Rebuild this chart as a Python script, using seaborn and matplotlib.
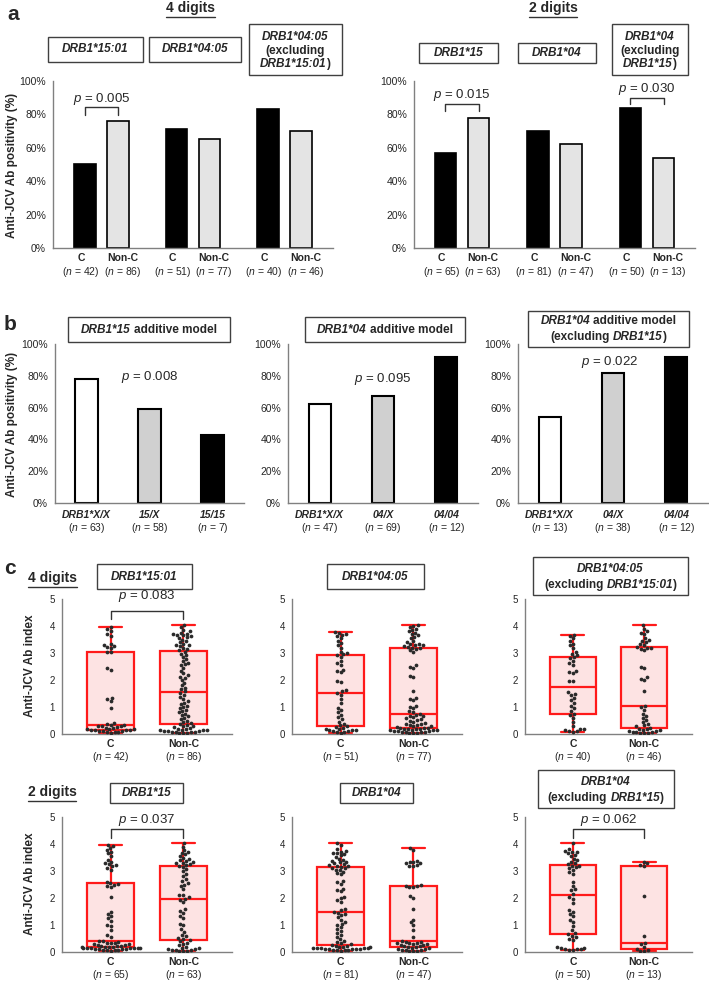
import numpy as np
import pandas as pd
import matplotlib.pyplot as plt
import seaborn as sns
from matplotlib.patches import Rectangle
from matplotlib.lines import Line2D

sns.set_style("white")
plt.rcParams["font.family"] = ["Liberation Sans", "DejaVu Sans"]
plt.rcParams["mathtext.fontset"] = "custom"
plt.rcParams["mathtext.rm"] = "Liberation Sans"
plt.rcParams["mathtext.it"] = "Liberation Sans:italic"

W, H = 709, 983

# ---- panel a: % anti-JCV positive, carriers (C) vs non-carriers ----
a4_groups = ["15:01", "04:05", "04:05ex"]
a4_C = [50, 71, 83]
a4_N = [76, 65, 70]
a4_nC = [42, 51, 40]
a4_nN = [86, 77, 46]
a2_groups = ["15", "04", "04ex"]
a2_C = [57, 70, 84]
a2_N = [78, 62, 54]
a2_nC = [65, 81, 50]
a2_nN = [63, 47, 13]

# ---- panel b: additive models ----
b_cats = [["DRB1*X/X", "15/X", "15/15"],
          ["DRB1*X/X", "04/X", "04/04"],
          ["DRB1*X/X", "04/X", "04/04"]]
b_vals = [[78, 59, 43], [62, 67, 92], [54, 82, 92]]
b_n = [[63, 58, 7], [47, 69, 12], [13, 38, 12]]
b_p = ["0.008", "0.095", "0.022"]

# ---- panel c: anti-JCV index per patient ----
c1501_C = [0.05, 0.07, 0.08, 0.09, 0.10, 0.11, 0.12, 0.13, 0.14, 0.15, 0.16, 0.18, 0.19, 0.20, 0.22, 0.24,
           0.26, 0.28, 0.30, 0.31, 0.33, 0.35, 0.38, 0.41, 0.95, 1.22, 1.30, 1.35, 2.38, 2.45,
           3.02, 3.05, 3.18, 3.22, 3.25, 3.30, 3.35, 3.62, 3.70, 3.80, 3.88, 3.97]
c1501_N = [0.03, 0.04, 0.05, 0.06, 0.07, 0.08, 0.09, 0.10, 0.11, 0.12, 0.13, 0.14, 0.15, 0.16, 0.18, 0.20,
           0.22, 0.25, 0.28, 0.31, 0.34, 0.37,
           0.40, 0.45, 0.50, 0.55, 0.60, 0.65, 0.70, 0.75, 0.80, 0.85, 0.90, 0.95, 1.00, 1.05, 1.10, 1.15,
           1.22, 1.30, 1.38, 1.45, 1.52,
           1.58, 1.65, 1.72, 1.80, 1.90, 2.00, 2.08, 2.12, 2.18, 2.25, 2.35, 2.45, 2.55, 2.58, 2.62, 2.70,
           2.78, 2.85, 2.92, 2.98, 3.05,
           3.10, 3.15, 3.20, 3.25, 3.28, 3.30, 3.35, 3.40, 3.45, 3.50, 3.55, 3.58, 3.62, 3.65, 3.68, 3.70,
           3.72, 3.75, 3.80, 3.85, 3.95, 4.03]
c0405_C = [0.05, 0.07, 0.09, 0.10, 0.12, 0.13, 0.15, 0.16, 0.18, 0.20, 0.22, 0.25, 0.28,
           0.32, 0.38, 0.45, 0.55, 0.62, 0.72, 0.80, 0.88, 0.95, 1.15, 1.30, 1.45, 1.52,
           1.58, 1.62, 1.92, 1.98, 2.28, 2.32, 2.38, 2.55, 2.62, 2.70, 2.85, 2.92,
           2.95, 3.00, 3.05, 3.20, 3.30, 3.38, 3.45, 3.55, 3.62, 3.68, 3.72, 3.75, 3.77]
c0405_N = [0.03, 0.04, 0.05, 0.06, 0.07, 0.08, 0.09, 0.10, 0.11, 0.12, 0.13, 0.14, 0.15, 0.16, 0.17, 0.18,
           0.19, 0.20, 0.21, 0.22,
           0.24, 0.26, 0.28, 0.30, 0.32, 0.34, 0.36, 0.38, 0.40, 0.45, 0.50, 0.52, 0.55, 0.58, 0.62, 0.65,
           0.68, 0.72, 0.75,
           0.80, 0.85, 0.95, 1.00, 1.05, 1.25, 1.30, 1.35, 1.60, 2.10, 2.15, 2.45, 2.50, 2.55, 3.05, 3.10,
           3.15, 3.18, 3.20,
           3.22, 3.25, 3.28, 3.30, 3.32, 3.35, 3.40, 3.45, 3.55, 3.60, 3.65, 3.70, 3.75, 3.80, 3.85, 3.90,
           3.95, 4.00, 4.03]
c0405x_C = [0.08, 0.10, 0.12, 0.15, 0.18, 0.20, 0.30, 0.45, 0.60, 0.70,
            0.75, 0.85, 0.95, 1.05, 1.15, 1.25, 1.35, 1.45, 1.50, 1.55,
            1.95, 1.98, 2.25, 2.30, 2.35, 2.55, 2.62, 2.70, 2.80, 2.85,
            2.92, 2.98, 3.05, 3.20, 3.28, 3.35, 3.45, 3.55, 3.62, 3.68]
c0405x_N = [0.03, 0.04, 0.05, 0.06, 0.08, 0.09, 0.10, 0.12, 0.14, 0.16, 0.18, 0.20,
            0.22, 0.28, 0.32, 0.38, 0.45, 0.52, 0.60, 0.68, 0.75, 0.90, 1.00,
            1.05, 1.60, 2.00, 2.05, 2.10, 2.45, 2.50, 3.10, 3.15, 3.18, 3.20,
            3.22, 3.28, 3.32, 3.40, 3.45, 3.50, 3.55, 3.70, 3.75, 3.80, 3.90, 4.03]
c15_C = [0.05, 0.06, 0.07, 0.08, 0.09, 0.10, 0.11, 0.12, 0.12, 0.13, 0.14, 0.14, 0.15, 0.15, 0.16, 0.16,
         0.17, 0.18, 0.19, 0.20, 0.21, 0.22, 0.24, 0.25, 0.27, 0.29, 0.30, 0.32, 0.34, 0.35, 0.37, 0.39,
         0.40, 0.55, 0.62, 0.80, 0.95, 1.00, 1.15, 1.25, 1.32, 1.40, 1.50, 2.02, 2.40, 2.45, 2.48, 2.52,
         2.55, 2.60, 3.05, 3.12, 3.18, 3.22, 3.25, 3.30, 3.35, 3.40, 3.55, 3.65, 3.72, 3.78, 3.85, 3.92,
         3.97]
c15_N = [0.03, 0.04, 0.05, 0.06, 0.07, 0.08, 0.10, 0.12, 0.14, 0.16, 0.20, 0.25, 0.30, 0.35, 0.40, 0.44,
         0.48, 0.52, 0.58, 0.62, 0.75, 0.85, 1.00, 1.05, 1.25, 1.32, 1.45, 1.52, 1.58, 1.85, 1.92, 1.97,
         2.02, 2.10, 2.12, 2.35, 2.45, 2.50, 2.55, 2.62, 2.70, 2.80, 2.90, 3.00, 3.08, 3.15, 3.18,
         3.22, 3.25, 3.28, 3.30, 3.33, 3.36, 3.40, 3.45, 3.50, 3.55, 3.62, 3.68, 3.72, 3.78, 3.90, 4.03]
c04_C = [0.05, 0.06, 0.07, 0.08, 0.09, 0.10, 0.10, 0.11, 0.12, 0.12, 0.13, 0.14, 0.14, 0.15, 0.16, 0.17,
         0.18, 0.20, 0.22, 0.24, 0.27,
         0.30, 0.33, 0.38, 0.42, 0.48, 0.55, 0.62, 0.70, 0.78, 0.85, 0.92, 1.00, 1.05, 1.12, 1.20, 1.30,
         1.38, 1.42, 1.46, 1.50,
         1.55, 1.58, 1.85, 1.92, 2.00, 2.05, 2.25, 2.30, 2.35, 2.52, 2.58, 2.62, 2.88, 2.92, 2.98, 3.02,
         3.05, 3.10, 3.12, 3.15,
         3.18, 3.20, 3.22, 3.25, 3.28, 3.32, 3.35, 3.38, 3.42, 3.45, 3.52, 3.58, 3.62, 3.65, 3.68, 3.72,
         3.75, 3.80, 3.95, 4.03]
c04_N = [0.03, 0.04, 0.05, 0.06, 0.07, 0.08, 0.10, 0.12, 0.14, 0.16, 0.18, 0.19,
         0.21, 0.23, 0.25, 0.27, 0.28, 0.30, 0.32, 0.33, 0.35, 0.37, 0.38, 0.40,
         0.55, 0.80, 1.00, 1.10, 1.20, 1.60, 2.00, 2.08, 2.40, 2.42, 2.44,
         2.46, 2.50, 3.18, 3.20, 3.22, 3.28, 3.30, 3.32, 3.35, 3.38, 3.78, 3.87]
c04x_C = [0.08, 0.09, 0.10, 0.11, 0.12, 0.13, 0.15, 0.18, 0.45, 0.50, 0.55, 0.60, 0.65,
          0.70, 0.80, 0.95, 1.10, 1.20, 1.32, 1.40, 1.50, 1.55, 1.80, 1.98, 2.05,
          2.15, 2.28, 2.32, 2.45, 2.60, 2.90, 2.95, 3.05, 3.10, 3.15, 3.18, 3.20,
          3.25, 3.30, 3.35, 3.40, 3.45, 3.55, 3.60, 3.65, 3.70, 3.72, 3.75, 3.80, 4.03]
c04x_N = [0.03, 0.05, 0.08, 0.12, 0.20, 0.30, 0.35, 0.58, 2.08, 3.20, 3.22, 3.28, 3.35]

c_rows = [
    [("DRB1*15:01", c1501_C, c1501_N, 42, 86, "0.083"),
     ("DRB1*04:05", c0405_C, c0405_N, 51, 77, None),
     ("DRB1*04:05x", c0405x_C, c0405x_N, 40, 46, None)],
    [("DRB1*15", c15_C, c15_N, 65, 63, "0.037"),
     ("DRB1*04", c04_C, c04_N, 81, 47, None),
     ("DRB1*04x", c04x_C, c04x_N, 50, 13, "0.062")],
]

fig = plt.figure(figsize=(W / 100, H / 100), dpi=100)
renderer = fig.canvas.get_renderer()
GRAY = "#808080"


def add_ax(x0, x1, y0, y1):
    return fig.add_axes([x0 / W, 1 - y1 / H, (x1 - x0) / W, (y1 - y0) / H])


def style(ax):
    sns.despine(ax=ax)
    for s in ["left", "bottom"]:
        ax.spines[s].set_color(GRAY)
        ax.spines[s].set_linewidth(1)
    ax.tick_params(axis="y", length=3, width=0.8, color=GRAY, labelsize=7.5, pad=2)
    ax.tick_params(axis="x", length=0, labelbottom=False)
    ax.set_xlabel("")
    ax.set_ylabel("")


def bottom_labels(ax, xs, names, ns, d1, d2, italic=False, dx=None):
    dx = dx or [0] * len(xs)
    for x, t, n, o in zip(xs, names, ns, dx):
        ax.annotate(t, (x, 0), xycoords=("data", "axes fraction"), xytext=(o, -d1),
                    textcoords="offset pixels", ha="center", va="center", fontsize=7.5,
                    fontweight="bold", fontstyle="italic" if italic else "normal")
        ax.annotate(f"($\\mathit{{n}}$ = {n})", (x, 0), xycoords=("data", "axes fraction"),
                    xytext=(o, -d2), textcoords="offset pixels", ha="center", va="center",
                    fontsize=7.5)


def bracket(ax, x0, x1, ylo, yhi, ytxt, p):
    ax.plot([x0, x0, x1, x1], [ylo, yhi, yhi, ylo], color="#333333", lw=1, clip_on=False)
    ax.text((x0 + x1) / 2, ytxt, f"$\\mathit{{p}}$ = {p}", ha="center", va="center",
            fontsize=9.5, clip_on=False)


def rich_line(xc, yc, parts, size=8.5):
    # parts: (text, italic); everything bold
    ts, ws = [], []
    for s, it in parts:
        t = fig.text(0, 1 - yc / H, s.strip(), fontsize=size, fontweight="bold",
                     fontstyle="italic" if it else "normal", va="center", ha="left")
        w = t.get_window_extent(renderer).width if s.strip() else 0
        w0 = 0.278 * size * 100 / 72 if s.startswith(" ") else 0
        ts.append((t, w0))
        ws.append(w + w0)
    x = xc - sum(ws) / 2
    for (t, w0), w in zip(ts, ws):
        t.set_x((x + w0) / W)
        x += w


def label_box(x0, x1, y0, y1, lines, size=8.5):
    fig.add_artist(Rectangle((x0 / W, 1 - y1 / H), (x1 - x0) / W, (y1 - y0) / H,
                             transform=fig.transFigure, fc="white", ec="#404040", lw=1))
    for yc, parts in lines:
        rich_line((x0 + x1) / 2, yc, parts, size)


def heading(xc, yc, s, size=10):
    t = fig.text(xc / W, 1 - yc / H, s, fontsize=size, fontweight="bold", ha="center", va="center")
    bb = t.get_window_extent(renderer)
    fig.add_artist(Line2D([bb.x0 / W, bb.x1 / W], [(bb.y0 - 1.5) / H] * 2,
                          transform=fig.transFigure, color="#333333", lw=1))


pct = lambda v, _: f"{v:.0f}%"

# ================= panel a =================
for groups, cv, nv, ncv, nnv, (x0, x1), xl in [
        (a4_groups, a4_C, a4_N, a4_nC, a4_nN, (53, 333), (-0.53, 2.53)),
        (a2_groups, a2_C, a2_N, a2_nC, a2_nN, (414, 695), (-0.52, 2.52))]:
    ax = add_ax(x0, x1, 81, 248)
    df = pd.DataFrame({"grp": groups * 2, "status": ["C"] * 3 + ["Non-C"] * 3, "val": cv + nv})
    sns.barplot(data=df, x="grp", y="val", hue="status", hue_order=["C", "Non-C"],
                palette={"C": "black", "Non-C": "#e4e4e4"}, width=0.72, gap=0.36,
                saturation=1, errorbar=None, edgecolor="black", linewidth=1.2,
                legend=False, ax=ax)
    ax.set_ylim(0, 100)
    ax.set_yticks(range(0, 101, 20))
    ax.yaxis.set_major_formatter(pct)
    ax.set_xlim(*xl)
    style(ax)
    xs = sorted(p.get_x() + p.get_width() / 2 for p in ax.patches if p.get_height() > 0)
    bottom_labels(ax, xs, ["C", "Non-C"] * 3,
                  [v for pair in zip(ncv, nnv) for v in pair], 10, 24,
                  dx=[-4, 4.5] * 3)
    if groups is a4_groups:
        bracket(ax, xs[0], xs[1], 79.6, 84.4, 89.5, "0.005")
    else:
        bracket(ax, xs[0], xs[1], 82, 86, 91.6, "0.015")
        bracket(ax, xs[4], xs[5], 86, 90, 95, "0.030")

# ================= panel b =================
b_colors = ["white", "#d0d0d0", "black"]
for i, (x0, x1) in enumerate([(55, 244), (288, 478), (518, 708)]):
    ax = add_ax(x0, x1, 344, 503)
    sns.barplot(x=b_cats[i], y=b_vals[i], hue=[0, 1, 2], palette=b_colors, width=0.35,
                saturation=1, errorbar=None, edgecolor="black", linewidth=1.5,
                legend=False, ax=ax)
    ax.set_ylim(0, 100)
    ax.set_yticks(range(0, 101, 20))
    ax.yaxis.set_major_formatter(pct)
    ax.set_xlim(-0.5, 2.5)
    style(ax)
    bottom_labels(ax, [0, 1, 2], b_cats[i], b_n[i], 12, 25, italic=True)
    ax.text([1.0, 1.0, 0.95][i], [79, 78, 88.7][i], f"$\\mathit{{p}}$ = {b_p[i]}",
            ha="center", va="center", fontsize=9.5)

# ================= panel c =================
c_x = [(62, 232), (292, 462), (525, 692)]
c_y = [(599, 734), (817, 952)]
for r, row in enumerate(c_rows):
    for k, (name, cv, nv, ncn, nnn, p) in enumerate(row):
        ax = add_ax(c_x[k][0], c_x[k][1], c_y[r][0], c_y[r][1])
        df = pd.DataFrame({"grp": ["C"] * len(cv) + ["Non-C"] * len(nv), "val": cv + nv})
        sns.boxplot(data=df, x="grp", y="val", whis=(0, 100), width=0.65, color="#fde3e3",
                    saturation=1, linecolor="#ff1a1a", linewidth=1.6, fliersize=0, ax=ax)
        sns.swarmplot(data=df, x="grp", y="val", color="#2a2a2a", size=2.7, ax=ax)
        ax.set_ylim(0, 5)
        ax.set_yticks(range(6))
        ax.set_xlim(-0.67, 1.67)
        style(ax)
        ax.tick_params(axis="y", labelsize=7)
        bottom_labels(ax, [0, 1], ["C", "Non-C"], [ncn, nnn], 10, 23)
        if p is not None:
            if r == 0:
                bracket(ax, 0, 1, 4.26, 4.55, 5.1, p)
            else:
                bracket(ax, 0, 1, 4.24, 4.55, 4.9, p)

# ================= labels & headings =================
ylab = "Anti-JCV Ab positivity (%)"
fig.text(12 / W, 1 - 165 / H, ylab, rotation=90, fontsize=8.5, fontweight="bold", ha="center", va="center")
fig.text(12 / W, 1 - 424 / H, ylab, rotation=90, fontsize=8.5, fontweight="bold", ha="center", va="center")
fig.text(30 / W, 1 - 666 / H, "Anti-JCV Ab index", rotation=90, fontsize=8.5, fontweight="bold", ha="center", va="center")
fig.text(30 / W, 1 - 884 / H, "Anti-JCV Ab index", rotation=90, fontsize=8.5, fontweight="bold", ha="center", va="center")

for s, (x, y) in zip("abc", [(13, 15), (10, 325), (10, 568)]):
    fig.text(x / W, 1 - y / H, s, fontsize=15, fontweight="bold", ha="center", va="center")

heading(190, 8, "4 digits")
heading(553, 8, "2 digits")
heading(52, 578, "4 digits")
heading(52, 792, "2 digits")

I = True
label_box(48, 143, 37, 62, [(49.5, [("DRB1*15:01", I)])])
label_box(149, 241, 37, 62, [(49.5, [("DRB1*04:05", I)])])
label_box(249, 342, 24, 75, [(37, [("DRB1*04:05", I)]), (51, [("(excluding", False)]),
                             (64, [("DRB1*15:01", I), (")", False)])])
label_box(419, 498, 43, 63, [(53, [("DRB1*15", I)])])
label_box(518, 596, 43, 63, [(53, [("DRB1*04", I)])])
label_box(612, 688, 24, 75, [(37, [("DRB1*04", I)]), (51, [("(excluding", False)]),
                             (64, [("DRB1*15", I), (")", False)])])

label_box(68, 230, 317, 342, [(330, [("DRB1*15", I), (" additive model", False)])])
label_box(305, 465, 317, 342, [(330, [("DRB1*04", I), (" additive model", False)])])
label_box(528, 689, 311, 347, [(321, [("DRB1*04", I), (" additive model", False)]),
                               (337, [("(excluding", False), (" DRB1*15", I), (")", False)])])

label_box(97, 192, 564, 589, [(576.5, [("DRB1*15:01", I)])])
label_box(327, 424, 564, 589, [(576.5, [("DRB1*04:05", I)])])
label_box(533, 688, 557, 595, [(569, [("DRB1*04:05", I)]),
                               (585, [("(excluding", False), (" DRB1*15:01", I), (")", False)])])
label_box(110, 183, 783, 803, [(793, [("DRB1*15", I)])])
label_box(340, 413, 783, 803, [(793, [("DRB1*04", I)])])
label_box(538, 674, 770, 808, [(782, [("DRB1*04", I)]),
                               (798, [("(excluding", False), (" DRB1*15", I), (")", False)])])

fig.savefig("out.png", dpi=100)
